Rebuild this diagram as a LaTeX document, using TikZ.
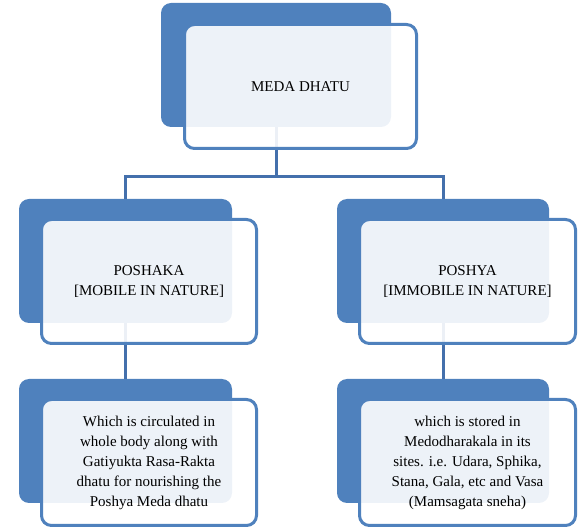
\documentclass[tikz,border=0pt]{standalone}
\usepackage{fontspec}
\setmainfont{Liberation Serif}
\definecolor{accblue}{HTML}{4F81BD}
\definecolor{connblue}{HTML}{4470AC}
\begin{document}
\begin{tikzpicture}[x=1pt,y=-1pt,
  backbox/.style={fill=accblue,rounded corners=10pt,inner sep=0pt,outer sep=0pt,draw=none},
  frontbox/.style={draw=accblue,line width=3pt,fill=white,fill opacity=0.9,text opacity=1,
     rounded corners=10pt,inner sep=0pt,outer sep=0pt,align=center,
     font=\fontsize{15}{20}\selectfont,text=black},
  conn/.style={draw=connblue,line width=3pt}]
\useasboundingbox (0,0) rectangle (579,529);
% back boxes
\node[backbox,minimum width=230pt,minimum height=124pt] (tb) at (276,65) {};
\node[backbox,minimum width=213pt,minimum height=124pt] (lb) at (125.5,261) {};
\node[backbox,minimum width=212pt,minimum height=124pt] (rb) at (443,261) {};
\node[backbox,minimum width=213pt,minimum height=124pt] (llb) at (125.5,441) {};
\node[backbox,minimum width=212pt,minimum height=124pt] (rrb) at (443,441) {};
% connectors
\coordinate (j) at (276,177);
\draw[conn] (tb.south) -- (j) -| (lb.north);
\draw[conn] (j) -| (rb.north);
\draw[conn] (lb.south) -- (llb.north);
\draw[conn] (rb.south) -- (rrb.north);
% front boxes
\node[frontbox,minimum width=232pt,minimum height=124pt] (tf) at (300.5,86.5) {MEDA DHATU};
\node[frontbox,minimum width=215pt,minimum height=124pt] (lf) at (149,281.5) {POSHAKA\\{}[MOBILE IN NATURE]};
\node[frontbox,minimum width=216pt,minimum height=124pt] (rf) at (467.5,281.5) {POSHYA\\{}[IMMOBILE IN NATURE]};
\node[frontbox,minimum width=215pt,minimum height=126pt] (llf) at (149,462.5) {Which is circulated in\\whole body along with\\Gatiyukta Rasa-Rakta\\dhatu for nourishing the\\Poshya Meda dhatu};
\node[frontbox,minimum width=216pt,minimum height=126pt] (rrf) at (467.5,462.5) {which is stored in\\Medodharakala in its\\sites. i.e. Udara, Sphika,\\Stana, Gala, etc and Vasa\\(Mamsagata sneha)};
\end{tikzpicture}
\end{document}
